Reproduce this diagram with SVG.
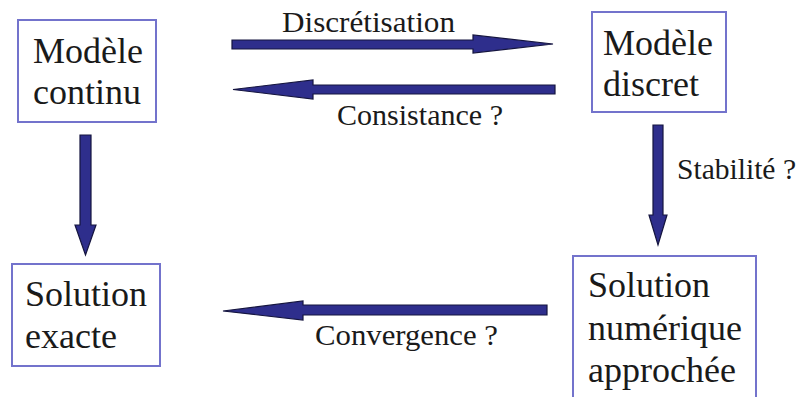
<svg xmlns="http://www.w3.org/2000/svg" width="798" height="397" viewBox="0 0 798 397">
<style>
.box{fill:#ffffff;stroke:#7373cc;stroke-width:2}
.nt{font-family:"Liberation Serif","Times New Roman",serif;font-size:36px;fill:#1a1a1a}
.lt{font-family:"Liberation Serif","Times New Roman",serif;font-size:30px;fill:#1a1a1a}
.arr{fill:#2e2e8c;stroke:#15153f;stroke-width:1.2;stroke-linejoin:miter}
</style>
<rect width="798" height="397" fill="#ffffff"/>
<g id="modele-continu">
<rect class="box" x="18" y="20" width="138" height="102"/>
<text class="nt" x="33" y="63">Modèle</text>
<text class="nt" x="33" y="104">continu</text>
</g>
<g id="modele-discret">
<rect class="box" x="592" y="12" width="134" height="100"/>
<text class="nt" x="603" y="55">Modèle</text>
<text class="nt" x="603" y="96">discret</text>
</g>
<g id="solution-exacte">
<rect class="box" x="12" y="264" width="148" height="102"/>
<text class="nt" x="25" y="306">Solution</text>
<text class="nt" x="25" y="348">exacte</text>
</g>
<g id="solution-approchee">
<rect class="box" x="573" y="256" width="183" height="160"/>
<text class="nt" x="588" y="297">Solution</text>
<text class="nt" x="588" y="340">numérique</text>
<text class="nt" x="588" y="382">approchée</text>
</g>
<g id="connectors">
<polygon class="arr" points="232,40 473,40 473,35 553,44 473,53 473,49 232,49"/>
<polygon class="arr" points="555,85 313,85 313,80 233,89.5 313,99 313,94 555,94"/>
<polygon class="arr" points="547,305 303,305 303,301 223,311 303,320 303,315 547,315"/>
<polygon class="arr" points="80,135 91,135 91,225 96,225 85.5,255 75,225 80,225"/>
<polygon class="arr" points="653,125 663,125 663,215 667,215 658,245 649,215 653,215"/>
<text class="lt" x="282" y="32" textLength="173" lengthAdjust="spacingAndGlyphs">Discrétisation</text>
<text class="lt" x="337" y="125" textLength="166" lengthAdjust="spacingAndGlyphs">Consistance ?</text>
<text class="lt" x="315" y="345" textLength="183" lengthAdjust="spacingAndGlyphs">Convergence ?</text>
<text class="lt" x="677" y="179" textLength="119" lengthAdjust="spacingAndGlyphs">Stabilité ?</text>
</g>
</svg>
